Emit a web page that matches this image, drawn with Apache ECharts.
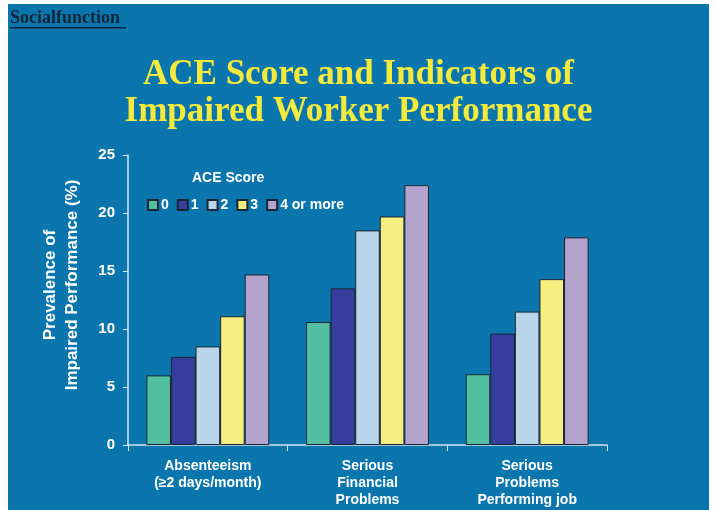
<!DOCTYPE html>
<html>
<head>
<meta charset="utf-8">
<script src="https://cdn.jsdelivr.net/npm/echarts@6/dist/echarts.min.js"></script>
<style>
  html, body { margin: 0; padding: 0; background: #ffffff; }
  #chart { position: absolute; left: 8px; top: 4px; width: 701px; height: 506px; background: #0b76ae; }
</style>
</head>
<body>
<div id="chart"></div>
<script>
const categories = ["Absenteeism\n(≥2 days/month)", "Serious\nFinancial\nProblems", "Serious\nProblems\nPerforming job"];
const scoreNames = ["0", "1", "2", "3", "4 or more"];
const score0 = [6.0, 10.6, 6.1];
const score1 = [7.6, 13.5, 9.6];
const score2 = [8.5, 18.5, 11.5];
const score3 = [11.1, 19.7, 14.3];
const score4 = [14.7, 22.4, 17.9];
const yTicks = [0, 5, 10, 15, 20, 25];

const seriesValues = [score0, score1, score2, score3, score4];
const colors = ["#52c0a0", "#373f9e", "#b9d5ec", "#f7ee80", "#b3a3cd"];

const chart = echarts.init(document.getElementById("chart"));
const axisFont = "Liberation Sans";

const options = {
  animation: false,
  graphic: [
    {
      type: "text",
      left: 2,
      top: 5,
      style: {
        text: "Socialfunction",
        fill: "#14243a",
        font: "bold 18px 'Liberation Serif'",
      },
    },
    {
      type: "rect",
      shape: { x: 2, y: 23, width: 116, height: 1.5 },
      style: { fill: "#14243a" },
    },
    {
      type: "text",
      left: "center",
      top: 52,
      style: {
        text: "ACE Score and Indicators of\nImpaired Worker Performance",
        fill: "#f4ea3c",
        font: "bold 35px 'Liberation Serif'",
        textAlign: "center",
        lineHeight: 37,
      },
    },
    {
      type: "text",
      left: 184,
      top: 167,
      style: {
        text: "ACE Score",
        fill: "#ffffff",
        font: "bold 14px 'Liberation Sans'",
      },
    },
    {
      type: "text",
      x: 53,
      y: 281,
      rotation: Math.PI / 2,
      style: {
        text: "Prevalence of\nImpaired Performance (%)",
        fill: "#ffffff",
        font: "bold 17px 'Liberation Sans'",
        lineHeight: 22,
        align: "center",
        verticalAlign: "middle",
      },
    },
  ],
  legend: {
    left: 134,
    top: 189,
    itemWidth: 10,
    itemHeight: 10,
    itemGap: 8,
    icon: "rect",
    textStyle: {
      color: "#ffffff",
      fontFamily: axisFont,
      fontWeight: "bold",
      fontSize: 14,
      padding: [0, 0, 0, -2],
    },
    data: scoreNames,
  },
  grid: {
    left: 120,
    right: 102,
    top: 151,
    bottom: 65,
  },
  xAxis: {
    type: "category",
    data: categories,
    axisLine: { lineStyle: { color: "#d6e4ee", width: 1.5 } },
    axisTick: { show: true, length: 6, lineStyle: { color: "#d6e4ee" } },
    axisLabel: {
      color: "#ffffff",
      fontFamily: axisFont,
      fontWeight: "bold",
      fontSize: 14,
      lineHeight: 17,
      margin: 13,
      interval: 0,
    },
  },
  yAxis: {
    type: "value",
    min: yTicks[0],
    max: yTicks[yTicks.length - 1],
    interval: 5,
    axisLine: { show: true, lineStyle: { color: "#d6e4ee", width: 1.5 } },
    axisTick: { show: true, length: 5, lineStyle: { color: "#d6e4ee" } },
    splitLine: { show: false },
    axisLabel: {
      color: "#ffffff",
      fontFamily: axisFont,
      fontWeight: "bold",
      fontSize: 15,
      margin: 13,
    },
  },
  series: seriesValues.map((values, i) => ({
    name: scoreNames[i],
    type: "bar",
    data: values,
    barGap: "0%",
    barCategoryGap: "23%",
    itemStyle: {
      color: colors[i],
      borderColor: "#1a2535",
      borderWidth: 1,
    },
  })),
};

chart.setOption(options);
</script>
</body>
</html>
